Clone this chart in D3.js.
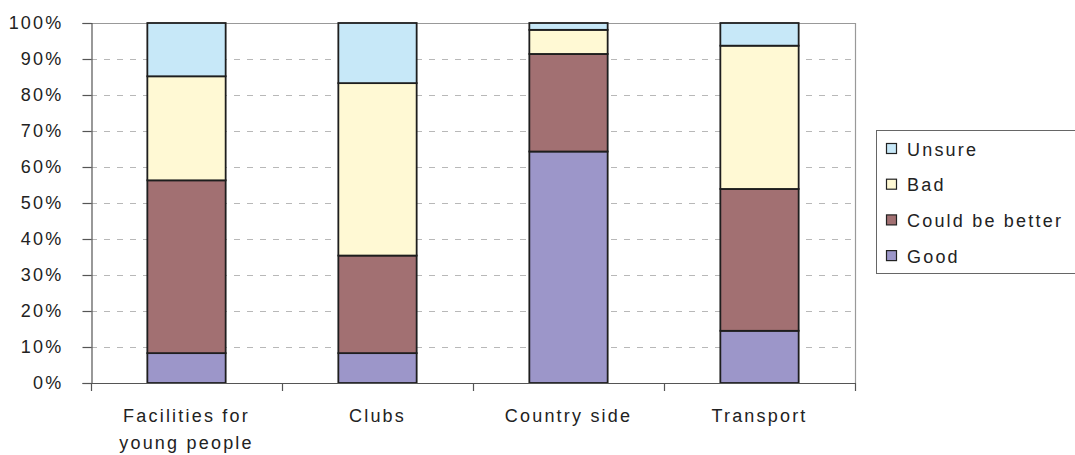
<!DOCTYPE html>
<html>
<head>
<meta charset="UTF-8">
<script src="https://cdn.jsdelivr.net/npm/d3@7/dist/d3.min.js"></script>
<style>
  body { margin: 0; background: #fff; }
  text { font-family: "Liberation Sans", Arial, sans-serif; fill: #222; }
</style>
</head>
<body>
<svg width="1075" height="455"></svg>
<script>
// data
var categories = ["Facilities for|young people", "Clubs", "Country side", "Transport"];
var seriesNames = ["Good", "Could be better", "Bad", "Unsure"];
var good = [8.3, 8.3, 64.3, 14.5];
var couldBeBetter = [48.0, 27.1, 27.1, 39.4];
var bad = [28.9, 47.9, 6.7, 39.8];
var unsure = [14.8, 16.7, 1.9, 6.3];
var yTicks = [0, 10, 20, 30, 40, 50, 60, 70, 80, 90, 100];
var colors = ["#9c96c9", "#a27072", "#fff9d4", "#c7e8f8"];

var svg = d3.select("svg");
var m = {left: 91, right: 855, top: 23, bottom: 383};
var fs = "18px", ls = "2.2px";

var rows = categories.map(function (c, i) {
  return {cat: c, "Good": good[i], "Could be better": couldBeBetter[i], "Bad": bad[i], "Unsure": unsure[i]};
});
var stack = d3.stack().keys(seriesNames)(rows);

var x = d3.scaleBand().domain(categories).range([m.left, m.right]).paddingInner(0.59).paddingOuter(0.295);
var y = d3.scaleLinear().domain([0, 100]).range([m.bottom, m.top]);

// grid
svg.append("g").selectAll("line").data(yTicks.slice(1, -1)).enter().append("line")
  .attr("x1", m.left).attr("x2", m.right)
  .attr("y1", function (d) { return y(d) + 0.5; }).attr("y2", function (d) { return y(d) + 0.5; })
  .attr("stroke", "#b8b8b8").attr("stroke-width", 1.2).attr("stroke-dasharray", "6,7");

// plot frame top/right
svg.append("path")
  .attr("d", "M" + m.left + "," + (m.top + 0.5) + "H" + (m.right + 0.5) + "V" + m.bottom)
  .attr("fill", "none").attr("stroke", "#999").attr("stroke-width", 1.2);

// bars
svg.append("g").selectAll("g").data(stack).enter().append("g")
  .attr("fill", function (d, i) { return colors[i]; })
  .selectAll("rect").data(function (d) { return d; }).enter().append("rect")
  .attr("x", function (d) { return x(d.data.cat); })
  .attr("width", x.bandwidth())
  .attr("y", function (d) { return y(d[1]); })
  .attr("height", function (d) { return y(d[0]) - y(d[1]); })
  .attr("stroke", "#1e1e1e").attr("stroke-width", 1.8);

// y axis
var yAxis = svg.append("g").attr("transform", "translate(" + (m.left + 0.5) + ",0)")
  .call(d3.axisLeft(y).tickValues(yTicks).tickSize(9).tickPadding(19).tickFormat(function (d) { return d + "%"; }));
yAxis.select(".domain").attr("stroke", "#555").attr("stroke-width", 1.2);
yAxis.selectAll(".tick line").attr("stroke", "#555").attr("stroke-width", 1.2);
yAxis.selectAll("text").style("font-size", fs).style("letter-spacing", ls).attr("fill", "#222");

// x axis
var xb = d3.scaleLinear().domain([0, 4]).range([m.left, m.right]);
svg.append("line").attr("x1", m.left).attr("x2", m.right)
  .attr("y1", m.bottom + 0.5).attr("y2", m.bottom + 0.5).attr("stroke", "#555").attr("stroke-width", 1.2);
svg.append("g").selectAll("line").data(d3.range(5)).enter().append("line")
  .attr("x1", function (d) { return xb(d) + 0.5; }).attr("x2", function (d) { return xb(d) + 0.5; })
  .attr("y1", m.bottom).attr("y2", m.bottom + 8).attr("stroke", "#555").attr("stroke-width", 1.2);

svg.append("g").selectAll("text").data(categories).enter().append("text")
  .attr("x", function (d) { return x(d) + x.bandwidth() / 2; })
  .attr("y", 422)
  .attr("text-anchor", "middle")
  .style("font-size", fs).style("letter-spacing", ls)
  .each(function (d) {
    var parts = d.split("|");
    var t = d3.select(this);
    parts.forEach(function (p, i) {
      t.append("tspan").attr("x", t.attr("x")).attr("dy", i === 0 ? 0 : 27).text(p);
    });
  });

// legend
var lg = svg.append("g");
lg.append("rect").attr("x", 876.5).attr("y", 130.5).attr("width", 210).attr("height", 143)
  .attr("fill", "#fff").attr("stroke", "#666");
var legendOrder = seriesNames.slice().reverse();
var item = lg.selectAll("g.item").data(legendOrder).enter().append("g")
  .attr("transform", function (d, i) { return "translate(886," + (149 + i * 35.7) + ")"; });
item.append("rect").attr("x", 0.5).attr("y", -5.5).attr("width", 10).attr("height", 10)
  .attr("fill", function (d) { return colors[seriesNames.indexOf(d)]; })
  .attr("stroke", "#222").attr("stroke-width", 1.2);
item.append("text").attr("x", 21).attr("y", 6.5)
  .style("font-size", fs).style("letter-spacing", ls)
  .text(function (d) { return d; });
</script>
</body>
</html>
